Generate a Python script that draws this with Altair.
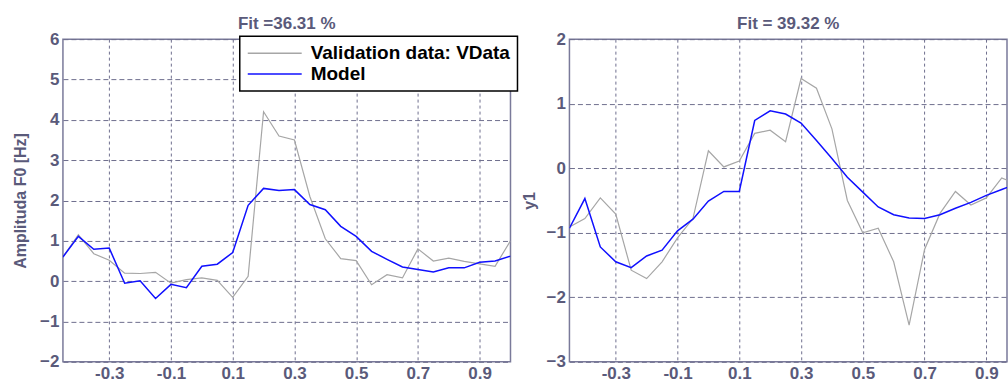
import altair as alt
import pandas as pd

time = [-0.45, -0.4, -0.35, -0.3, -0.25, -0.2, -0.15, -0.1, -0.05, 0.0,
        0.05, 0.1, 0.15, 0.2, 0.25, 0.3, 0.35, 0.4, 0.45, 0.5,
        0.55, 0.6, 0.65, 0.7, 0.75, 0.8, 0.85, 0.9, 0.95, 1.0]

left_vdata = [0.6, 1.15, 0.68, 0.52, 0.2, 0.19, 0.22, -0.05, 0.04, 0.08,
              0.02, -0.4, 0.12, 4.2, 3.6, 3.5, 2.1, 1.05, 0.56, 0.51,
              -0.09, 0.16, 0.08, 0.8, 0.5, 0.57, 0.49, 0.43, 0.37, 1.0]
left_model = [0.6, 1.11, 0.79, 0.82, -0.05, 0.01, -0.43, -0.08, -0.16, 0.37,
              0.42, 0.71, 1.88, 2.3, 2.25, 2.27, 1.9, 1.77, 1.36, 1.11,
              0.74, 0.54, 0.35, 0.29, 0.23, 0.33, 0.33, 0.47, 0.5, 0.62]

right_vdata = [-0.91, -0.78, -0.46, -0.71, -1.58, -1.71, -1.45, -1.08, -0.78, 0.27,
               0.02, 0.11, 0.54, 0.59, 0.41, 1.39, 1.24, 0.61, -0.5, -1.0,
               -0.93, -1.45, -2.43, -1.26, -0.7, -0.36, -0.57, -0.46, -0.15, -0.25]
right_model = [-0.93, -0.47, -1.22, -1.45, -1.54, -1.36, -1.27, -0.97, -0.79, -0.51,
               -0.36, -0.36, 0.74, 0.89, 0.84, 0.70, 0.43, 0.15, -0.14, -0.37,
               -0.60, -0.72, -0.77, -0.78, -0.72, -0.62, -0.53, -0.42, -0.33, -0.24]

series_names = ["Validation data: VData", "Model"]
series_colors = ["#a6a6a6", "#1010ff"]
x_ticks = [-0.3, -0.1, 0.1, 0.3, 0.5, 0.7, 0.9]
left_y_ticks = [-2, -1, 0, 1, 2, 3, 4, 5, 6]
right_y_ticks = [-3, -2, -1, 0, 1, 2]
titles = ["Fit =36.31 %", "Fit = 39.32 %"]
y_titles = ["Amplituda F0 [Hz]", "y1"]

TXT = "#5a5a7a"
FONT = "Liberation Sans"


def make_df(vdata, model):
    rows = []
    for t, v in zip(time, vdata):
        rows.append({"t": t, "v": v, "series": series_names[0]})
    for t, v in zip(time, model):
        rows.append({"t": t, "v": v, "series": series_names[1]})
    return pd.DataFrame(rows)


def panel(df, title, ytitle, ydom, yticks, xdom, width, legend, title_pad):
    color = alt.Color("series:N",
                      scale=alt.Scale(domain=series_names, range=series_colors),
                      legend=legend)
    xenc = alt.X("t:Q", scale=alt.Scale(domain=xdom, nice=False, zero=False),
                 axis=alt.Axis(values=x_ticks, title=None, gridDash=[3, 3],
                               labelExpr="replace(format(datum.value, '.1f'), '\u2212', '-')"))
    yenc = alt.Y("v:Q", scale=alt.Scale(domain=ydom, nice=False, zero=False),
                 axis=alt.Axis(values=yticks, title=ytitle, format="d", gridDash=[5, 3],
                               titlePadding=title_pad))
    gray = alt.Chart(df).transform_filter(
        alt.datum.series == series_names[0]
    ).mark_line(clip=True, strokeWidth=1.2).encode(x=xenc, y=yenc, color=color)
    blue = alt.Chart(df).transform_filter(
        alt.datum.series == series_names[1]
    ).mark_line(clip=True, strokeWidth=1.5).encode(x=xenc, y=yenc, color=color)
    return alt.layer(gray, blue).properties(
        width=width, height=323,
        title=alt.TitleParams(title, fontSize=17, font=FONT, fontWeight="bold",
                              color=TXT, offset=-3, anchor="middle"),
    )


left_legend = alt.Legend(
    title=None, orient="none", legendX=177, legendY=-3,
    fillColor="white", strokeColor="black", padding=7,
    symbolType="M-1,0H5", symbolSize=324, symbolStrokeWidth=1.5,
    labelFont=FONT, labelFontSize=19, labelFontWeight="bold", labelColor="black",
    labelOffset=44, labelLimit=400, rowPadding=1,
)

left = panel(make_df(left_vdata, left_model), titles[0], y_titles[0],
             [-2, 6], left_y_ticks, [-0.45, 1.0], 448, left_legend, 11)
right = panel(make_df(right_vdata, right_model), titles[1], y_titles[1],
              [-3, 2], right_y_ticks, [-0.45, 0.967], 438, None, 9)

chart = alt.hconcat(left, right, spacing=0).resolve_scale(
    color="independent"
).properties(
    padding={"left": 11, "top": 14, "right": 0, "bottom": 0},
    background="white",
).configure_view(
    stroke="#7a7a9a", strokeWidth=1.5
).configure_axis(
    labelFont=FONT, labelFontSize=17, labelFontWeight="bold", labelColor=TXT,
    labelPadding=4, titleFont=FONT, titleFontSize=16, titleFontWeight="bold",
    titleColor=TXT, domain=False, ticks=False, grid=True,
    gridColor="#6e6e8e", gridOpacity=1, gridWidth=1,
).configure_legend(
    strokeWidth=1.5
)

chart.save("out.html", embed_options={"renderer": "svg", "actions": False})
